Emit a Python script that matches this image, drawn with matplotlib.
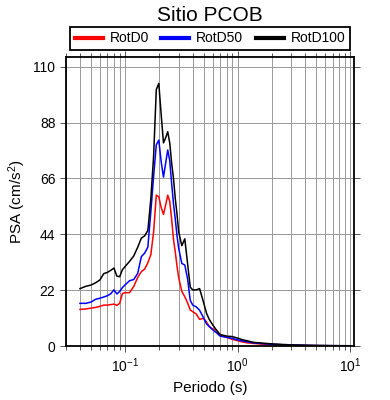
import numpy as np
import matplotlib
matplotlib.use("Agg")
import matplotlib.pyplot as plt
from matplotlib.ticker import LogLocator, NullFormatter, FixedLocator

plt.rcParams['font.family'] = ['Liberation Sans', 'DejaVu Sans']
plt.rcParams['mathtext.fontset'] = 'custom'
plt.rcParams['mathtext.rm'] = 'Liberation Sans'
plt.rcParams['mathtext.it'] = 'Liberation Sans:italic'

# Periods (s) and pseudo-spectral accelerations (cm/s^2)
periods = [0.04, 0.045, 0.05, 0.055, 0.06, 0.065, 0.07, 0.075, 0.08, 0.085,
           0.09, 0.095, 0.10, 0.11, 0.12, 0.13, 0.14, 0.15, 0.16, 0.17,
           0.18, 0.19, 0.20, 0.21, 0.22, 0.23, 0.24, 0.25, 0.26, 0.27,
           0.28, 0.29, 0.30, 0.32, 0.34, 0.36, 0.38, 0.40, 0.43, 0.46,
           0.50, 0.53, 0.56, 0.60, 0.65, 0.70, 0.80, 0.90, 1.0, 1.1,
           1.2, 1.4, 1.6, 1.8, 2.0, 2.5, 3.0, 4.0, 5.0, 7.0, 10.0]

rotd100 = [22.6, 23.5, 24.0, 24.9, 26.0, 28.5, 29.0, 29.8, 30.7, 27.5,
           27.3, 30.0, 31.2, 33.3, 35.5, 38.9, 42.5, 43.4, 45.5, 58.0,
           75.0, 101.0, 103.4, 91.0, 80.0, 82.0, 84.4, 80.0, 72.0, 66.0,
           58.0, 52.0, 45.0, 39.5, 42.2, 32.5, 23.2, 22.1, 22.1, 22.6,
           17.0, 12.9, 10.5, 8.4, 6.2, 4.5, 3.9, 3.7, 3.1, 2.5,
           2.1, 1.4, 1.2, 1.0, 0.85, 0.6, 0.45, 0.3, 0.22, 0.15, 0.1]

rotd50 = [16.8, 16.8, 17.3, 18.4, 18.8, 19.3, 19.8, 20.6, 22.1, 20.5,
          21.5, 23.0, 24.0, 25.7, 26.2, 28.6, 35.2, 36.6, 39.0, 53.0,
          67.0, 79.2, 81.1, 72.5, 66.5, 72.0, 77.2, 73.0, 64.0, 56.0,
          50.0, 43.5, 38.5, 32.5, 31.9, 26.5, 18.0, 16.1, 15.4, 14.1,
          11.0, 8.7, 7.7, 6.4, 5.2, 3.9, 3.4, 3.0, 2.4, 2.0,
          1.7, 1.2, 1.0, 0.85, 0.7, 0.5, 0.38, 0.25, 0.18, 0.12, 0.08]

rotd0 = [14.4, 14.6, 14.9, 15.2, 15.6, 16.1, 16.1, 16.3, 16.5, 16.0,
         16.8, 20.6, 21.0, 21.0, 23.5, 27.0, 29.3, 30.3, 32.8, 36.0,
         45.0, 59.4, 58.8, 54.5, 51.8, 55.5, 59.4, 57.0, 50.0, 42.0,
         37.0, 31.5, 27.0, 21.5, 19.4, 17.0, 14.2, 13.5, 12.6, 10.5,
         10.9, 9.4, 7.7, 6.7, 6.2, 4.3, 3.4, 2.6, 2.1, 1.6,
         1.3, 1.0, 0.8, 0.65, 0.55, 0.4, 0.3, 0.2, 0.14, 0.09, 0.06]

yticks = [0, 22, 44, 66, 88, 110]

fig = plt.figure(figsize=(3.9, 4.0), dpi=100)
ax = fig.add_axes([0.169, 0.135, 0.739, 0.722])

ax.plot(periods, rotd0, color='red', lw=1.1, label='RotD0')
ax.plot(periods, rotd50, color='blue', lw=1.1, label='RotD50')
ax.plot(periods, rotd100, color='black', lw=1.1, label='RotD100')

ax.set_xscale('log')
ax.set_xlim(0.03, 10.8)
ax.set_ylim(0, max(rotd100) * 1.1)
ax.yaxis.set_major_locator(FixedLocator(yticks))
ax.xaxis.set_major_locator(LogLocator(base=10, numticks=10))
ax.xaxis.set_minor_locator(LogLocator(base=10, subs=np.arange(2, 10), numticks=20))
ax.xaxis.set_minor_formatter(NullFormatter())

ax.grid(True, which='both', axis='x', color='#999999', lw=0.7)
ax.grid(True, which='major', axis='y', color='#999999', lw=0.7)

ax.tick_params(which='both', direction='out', top=True, right=True,
               labelsize=10, width=0.7, color='#555555')
ax.tick_params(which='major', length=4)
ax.tick_params(which='minor', length=3)
for s in ax.spines.values():
    s.set_linewidth(1.3)

ax.set_xlabel('Periodo (s)', fontsize=11)
ax.set_ylabel('PSA (cm/s$^2$)', fontsize=11)
ax.set_title('Sitio PCOB', fontsize=15, pad=26)

leg = ax.legend(ncol=3, loc='lower center', bbox_to_anchor=(0.5, 1.0),
                fontsize=10, frameon=True, fancybox=False, framealpha=1,
                edgecolor='black', handlelength=2.0, columnspacing=0.9,
                borderpad=0.35, handletextpad=0.5)
leg.get_frame().set_linewidth(1.3)
for h in leg.legend_handles:
    h.set_linewidth(3)

fig.savefig('out.png', dpi=100)
